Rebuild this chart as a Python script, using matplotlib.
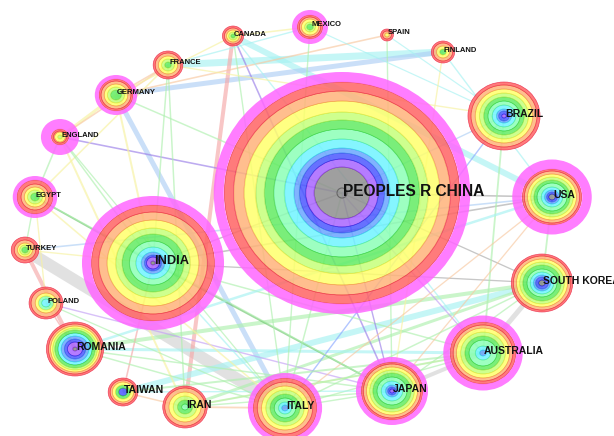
import matplotlib
matplotlib.use("Agg")
import matplotlib.pyplot as plt
from matplotlib.patches import Annulus, Ellipse

# ---------------- data ----------------
names = ['PEOPLES R CHINA', 'INDIA', 'BRAZIL', 'USA', 'SOUTH KOREA', 'AUSTRALIA',
         'JAPAN', 'ITALY', 'IRAN', 'TAIWAN', 'ROMANIA', 'POLAND', 'TURKEY', 'EGYPT',
         'ENGLAND', 'GERMANY', 'FRANCE', 'CANADA', 'MEXICO', 'SPAIN', 'FINLAND']
node_x = [342, 153, 504, 552, 542, 483, 392, 285, 185, 123, 75, 46, 25, 35,
          60, 116, 168, 233, 310, 387, 443]
node_y = [193, 263, 116, 197, 283, 353, 391, 408, 407, 392, 349, 303, 250, 197,
          137, 95, 65, 36, 27, 35, 52]

# tree-ring thickness per time slice (oldest -> newest)
rings = [
    [26, 8, 6, 5, 9, 10, 9, 8, 11, 10, 9],   # CHINA
    [2, 4, 2, 3, 5, 6, 7, 6, 8, 8, 7],       # INDIA
    [0, 2, 3, 2, 4, 4, 4, 4, 4, 4, 3],       # BRAZIL
    [3, 0, 2, 2, 3, 4, 3, 3, 3, 3, 2],       # USA
    [3, 0, 3, 2, 3, 3, 4, 3, 3, 3, 2],       # SOUTH KOREA
    [0, 0, 0, 3, 4, 6, 4, 4, 4, 3, 3],       # AUSTRALIA
    [0, 2, 2, 2, 4, 4, 4, 3, 3, 3, 2],       # JAPAN
    [0, 0, 0, 3, 3, 4, 4, 4, 4, 4, 4],       # ITALY
    [0, 0, 0, 0, 0, 3, 4, 4, 4, 4, 2],       # IRAN
    [0, 0, 4, 0, 0, 0, 3, 0, 3, 2, 2],       # TAIWAN
    [2, 5, 3, 3, 3, 0, 3, 2, 2, 2, 2],       # ROMANIA
    [0, 0, 0, 0, 4, 3, 0, 0, 3, 4, 2],       # POLAND
    [0, 0, 0, 0, 0, 0, 3, 2, 2, 3, 3],       # TURKEY
    [0, 0, 0, 0, 0, 0, 4, 3, 3, 3, 4],       # EGYPT
    [0, 0, 0, 0, 0, 0, 0, 2, 3, 1, 2],       # ENGLAND
    [0, 0, 0, 0, 0, 0, 5, 3, 3, 3, 2],       # GERMANY
    [0, 0, 0, 0, 0, 0, 3, 3, 3, 3, 2],       # FRANCE
    [0, 0, 0, 0, 0, 0, 2, 2, 2, 2, 2],       # CANADA
    [0, 0, 0, 0, 0, 0, 3, 2, 3, 2, 2],       # MEXICO
    [0, 0, 0, 0, 0, 0, 0, 0, 2, 2, 2],       # SPAIN
    [0, 0, 0, 0, 0, 0, 3, 0, 3, 3, 2],       # FINLAND
]
# centrality (purple/magenta outer ring thickness)
centrality = [10, 9, 0, 9.5, 0, 6.5, 5, 5, 0, 0, 0, 0, 0, 4, 10, 4, 0, 0, 5, 0, 0]
label_tier = [3, 2, 1, 1, 1, 1, 1, 1, 1, 1, 1, 0, 0, 0, 0, 0, 0, 0, 0, 0, 0]

# links: (source, target, year-colour, strength)
links = [
    ('TURKEY', 'ITALY', 'grey', 12), ('CANADA', 'USA', 'cyan', 6),
    ('FRANCE', 'FINLAND', 'cyan', 7), ('GERMANY', 'FINLAND', 'lblue', 5),
    ('GERMANY', 'ITALY', 'lblue', 5), ('CANADA', 'IRAN', 'pink', 4),
    ('TURKEY', 'ROMANIA', 'pink', 4), ('TAIWAN', 'SOUTH KOREA', 'cyan', 6),
    ('AUSTRALIA', 'SOUTH KOREA', 'grey', 5), ('JAPAN', 'AUSTRALIA', 'grey', 4),
    ('ROMANIA', 'SOUTH KOREA', 'lgreen', 4), ('IRAN', 'SOUTH KOREA', 'lgreen', 3),
    ('ROMANIA', 'AUSTRALIA', 'cyan', 3), ('EGYPT', 'INDIA', 'dgreen', 1.8),
    ('INDIA', 'JAPAN', 'dgreen', 1.8), ('CANADA', 'JAPAN', 'purple', 1.6),
    ('ENGLAND', 'PEOPLES R CHINA', 'purple', 1.6), ('POLAND', 'JAPAN', 'lpurple', 1.4),
    ('ITALY', 'BRAZIL', 'blue', 1.4), ('PEOPLES R CHINA', 'USA', 'dgrey', 1.6),
    ('INDIA', 'USA', 'dgrey', 1.6), ('INDIA', 'SOUTH KOREA', 'dgrey', 1.3),
    ('PEOPLES R CHINA', 'SOUTH KOREA', 'dgrey', 1.3), ('GERMANY', 'SPAIN', 'orange', 1.6),
    ('SPAIN', 'JAPAN', 'lgreen', 1.4), ('MEXICO', 'BRAZIL', 'cyan', 1.2),
    ('BRAZIL', 'AUSTRALIA', 'lgreen', 1.8), ('USA', 'SOUTH KOREA', 'lgreen', 1.8),
    ('CANADA', 'MEXICO', 'yellow', 1.6), ('GERMANY', 'FRANCE', 'orange', 1.6),
    ('ENGLAND', 'GERMANY', 'yellow', 3), ('ENGLAND', 'FRANCE', 'orange', 1.6),
    ('EGYPT', 'FRANCE', 'yellow', 1.6), ('EGYPT', 'ENGLAND', 'lgreen', 1.6),
    ('EGYPT', 'ITALY', 'yellow', 1.6), ('ENGLAND', 'IRAN', 'yellow', 2),
    ('GERMANY', 'INDIA', 'yellow', 2), ('FRANCE', 'INDIA', 'lgreen', 1.5),
    ('FRANCE', 'IRAN', 'lgreen', 1.5), ('GERMANY', 'PEOPLES R CHINA', 'lgreen', 1.5),
    ('ENGLAND', 'INDIA', 'lgreen', 1.5), ('INDIA', 'TAIWAN', 'pink', 1.6),
    ('INDIA', 'ITALY', 'cyan', 1.5), ('INDIA', 'AUSTRALIA', 'lgreen', 1.5),
    ('ROMANIA', 'JAPAN', 'lgreen', 1.5), ('ROMANIA', 'ITALY', 'lgreen', 1.5),
    ('TAIWAN', 'IRAN', 'orange', 1.5), ('IRAN', 'ITALY', 'orange', 1.8),
    ('POLAND', 'ROMANIA', 'pink', 1.5), ('TURKEY', 'USA', 'lblue', 1.6),
    ('TURKEY', 'EGYPT', 'lgreen', 1.4), ('TURKEY', 'INDIA', 'yellow', 1.4),
    ('POLAND', 'EGYPT', 'yellow', 1.4), ('PEOPLES R CHINA', 'JAPAN', 'purple', 1.4),
    ('PEOPLES R CHINA', 'AUSTRALIA', 'lpurple', 1.4), ('PEOPLES R CHINA', 'ITALY', 'lgreen', 1.5),
    ('BRAZIL', 'PEOPLES R CHINA', 'lblue', 1.4), ('FINLAND', 'USA', 'cyan', 1.4),
    ('MEXICO', 'ITALY', 'lgreen', 1.4), ('CANADA', 'ITALY', 'lgreen', 1.4),
    ('CANADA', 'AUSTRALIA', 'cyan', 1.4), ('FINLAND', 'JAPAN', 'yellow', 1.4),
    ('USA', 'JAPAN', 'orange', 1.3), ('USA', 'ITALY', 'orange', 1.3),
    ('SOUTH KOREA', 'JAPAN', 'lgreen', 1.4), ('AUSTRALIA', 'ITALY', 'lgreen', 1.4),
    ('AUSTRALIA', 'IRAN', 'yellow', 1.4), ('JAPAN', 'ITALY', 'lgreen', 1.4),
    ('JAPAN', 'IRAN', 'lgreen', 1.4), ('JAPAN', 'TAIWAN', 'cyan', 1.4),
    ('MEXICO', 'FRANCE', 'cyan', 1.4), ('CANADA', 'GERMANY', 'yellow', 1.4),
    ('FRANCE', 'BRAZIL', 'yellow', 1.4), ('SPAIN', 'BRAZIL', 'cyan', 1.2),
    ('ROMANIA', 'USA', 'cyan', 2.5), ('POLAND', 'ITALY', 'lgreen', 1.3),
    ('EGYPT', 'JAPAN', 'lgreen', 1.3), ('ENGLAND', 'ITALY', 'lgreen', 1.3),
    ('INDIA', 'PEOPLES R CHINA', 'dgrey', 1.4), ('TAIWAN', 'AUSTRALIA', 'lgreen', 2),
    ('IRAN', 'AUSTRALIA', 'lgreen', 2), ('ITALY', 'SOUTH KOREA', 'lgreen', 1.5),
]

# ---------------- style ----------------
ring_colors = ['#8e8e8e', '#a865ff', '#4c58ff', '#6aa6ff', '#70f4ff', '#8cffb6',
               '#63ec63', '#c6ff7a', '#ffff6c', '#ffb37a', '#ff6464']
ring_edges = ['#555555', '#8a2be2', '#2222dd', '#3a7fee', '#30d8e8', '#50ee90',
              '#35cc35', '#9ee84a', '#e8e83a', '#f58a45', '#e82244']
magenta = '#ff66ff'
link_colors = {'grey': '#d2d2d2', 'dgrey': '#a9a9a9', 'cyan': '#a6f2f2',
               'lblue': '#aecff5', 'pink': '#f5a8a8', 'lgreen': '#aef0ae',
               'dgreen': '#6fc46f', 'purple': '#9a7ee8', 'lpurple': '#c3a0f5',
               'blue': '#8aa8ff', 'orange': '#f8c8a0', 'yellow': '#f7f2a0'}
ASPECT = 1.06
W, H = 614, 436

fig = plt.figure(figsize=(W / 100, H / 100), dpi=100)
ax = fig.add_axes([0, 0, 1, 1])
ax.set_xlim(0, W)
ax.set_ylim(H, 0)
ax.axis('off')

idx = {n: i for i, n in enumerate(names)}
pt = 0.72  # px -> pt

for s, t, c, w in links:
    i, j = idx[s], idx[t]
    ax.plot([node_x[i], node_x[j]], [node_y[i], node_y[j]], color=link_colors[c],
            lw=w * pt, alpha=0.65, solid_capstyle='butt', zorder=1)

order = sorted(range(len(names)), key=lambda k: -sum(rings[k]) - centrality[k])
for k in order:
    cx, cy = node_x[k], node_y[k]
    z = 2 + (len(names) - order.index(k)) * 0.01
    r0 = 0.0
    for si, th in enumerate(rings[k]):
        if th <= 0:
            continue
        r1 = r0 + th
        if r0 == 0:
            p = Ellipse((cx, cy), 2 * r1 * ASPECT, 2 * r1, facecolor=ring_colors[si],
                        edgecolor=ring_edges[si], lw=0.45, alpha=0.85, zorder=z)
        else:
            p = Annulus((cx, cy), (r1 * ASPECT, r1), th, facecolor=ring_colors[si],
                        edgecolor=ring_edges[si], lw=0.45, alpha=0.85, zorder=z)
        ax.add_patch(p)
        r0 = r1
    if centrality[k] > 0:
        r1 = r0 + centrality[k]
        ax.add_patch(Annulus((cx, cy), (r1 * ASPECT, r1), centrality[k],
                             facecolor=magenta, edgecolor='none', alpha=0.85, zorder=z))
    if k == 0:
        ax.add_patch(Ellipse((cx, cy), 10, 10, facecolor='none', edgecolor='#666666',
                             lw=0.8, zorder=z))

sizes = {0: 5.5, 1: 7.5, 2: 9.3, 3: 11.2}
for k, n in enumerate(names):
    ax.text(node_x[k] + 1, node_y[k] - 2, n, fontsize=sizes[label_tier[k]],
            family=['Liberation Sans', 'DejaVu Sans'], weight='bold', color='#111111',
            ha='left', va='center', zorder=10)

fig.savefig('out.png', dpi=100, facecolor='white')
